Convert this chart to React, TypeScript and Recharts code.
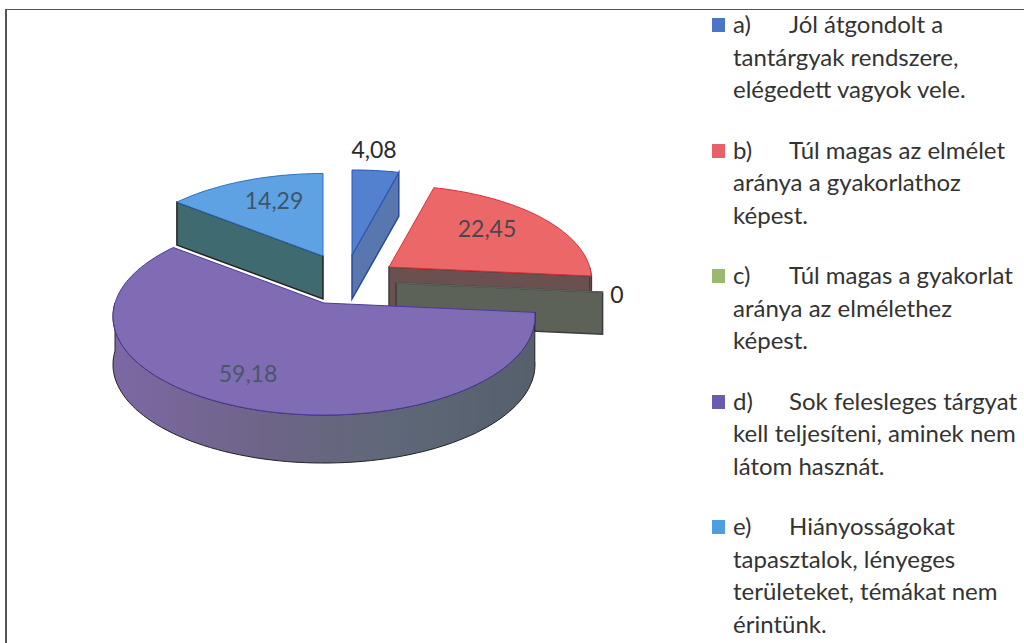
import { PieChart, Pie, Legend } from "recharts";

const names = ["a)", "b)", "c)", "d)", "e)"];
const values = [4.08, 22.45, 0, 59.18, 14.29];
const valueLabels = ["4,08", "22,45", "0", "59,18", "14,29"];
const legendHead = ["Jól átgondolt a", "Túl magas az elmélet", "Túl magas a gyakorlat", "Sok felesleges tárgyat", "Hiányosságokat"];
const legendRest = [
  ["tantárgyak rendszere,", "elégedett vagyok vele."],
  ["aránya a gyakorlathoz", "képest."],
  ["aránya az elmélethez", "képest."],
  ["kell teljesíteni, aminek nem", "látom hasznát."],
  ["tapasztalok, lényeges", "területeket, témákat nem", "érintünk."],
];

const topColors = ["#5480d0", "#ec6868", "#9ab870", "#806cb4", "#5ea2e4"];
const edgeColors = ["#2a56b8", "#d8303a", "#5c6258", "#4a3a9c", "#2a72c8"];
const wallColors = ["#5877ae", "#6b5050", "#5c6258", "#6f6a8c", "#3f6a70"];
const wallEdges = ["#2a4a9c", "#3c3c3c", "#3c3c3c", "#222222", "#222222"];
const markerColors = ["#4a76c8", "#e8606a", "#9ab870", "#6a5cb0", "#4aa0e0"];
const labelColors = ["#2a2a2a", "#4a4650", "#2a2a2a", "#46586a", "#3f5568"];

// per slice look of the 3d pie: explosion offset, size, label place
const explode = [[-3, -25], [34, -13], [41, 3], [-31, 23], [-32, -24]];
const scale = [1, 0.96, 0.98, 1, 0.97];
const labelPos = [[374, 158], [487, 237], [617, 303], [248, 382], [274, 209]];

const SQUASH = 96.7 / 209;
const PERSPECTIVE = 0.137;
const DEPTH = [44, 44, 42, 48, 43];

const chartData = names.map((name, i) => ({ name, value: values[i], fill: topColors[i] }));

function project(theta: number, r: number) {
  const rad = (theta * Math.PI) / 180;
  const u = Math.sin(rad);
  const v = -Math.cos(rad);
  const w = 1 - PERSPECTIVE * v;
  return [(r * u) / w, (r * SQUASH * v) / w];
}

function arcPoints(from: number, to: number, r: number) {
  const pts = [];
  const steps = Math.max(1, Math.ceil(Math.abs(to - from) / 2));
  for (let i = 0; i <= steps; i++) pts.push(project(from + ((to - from) * i) / steps, r));
  return pts;
}

function toPath(pts: number[][]) {
  return "M" + pts.map((p) => `${p[0].toFixed(1)},${p[1].toFixed(1)}`).join("L") + "Z";
}

function PieSlice(props: any) {
  const { cx, cy, outerRadius, startAngle, endAngle, index } = props;
  const from = 90 - startAngle;
  const to = 90 - endAngle;
  const r = outerRadius * scale[index];
  const d = DEPTH[index];
  const ox = cx + explode[index][0];
  const oy = cy + explode[index][1];
  const down = (p: number[]) => [p[0], p[1] + d];
  const faces = [];

  // cut faces that look at the viewer
  const cutFace = (theta: number) => {
    const rim = project(theta, r);
    return toPath([[0, 0], rim, down(rim), [0, d]]);
  };
  if (Math.sin((from * Math.PI) / 180) < -0.01) faces.push(cutFace(from));
  if (Math.sin((to * Math.PI) / 180) > 0.01) faces.push(cutFace(to));

  // outer wall, front half only
  const wallFrom = Math.max(from, 90);
  const wallTo = Math.min(to, 270);
  const hasWall = wallTo > wallFrom;
  const wallTop = hasWall ? arcPoints(wallFrom, wallTo, r) : [];
  const wallPath = hasWall ? toPath([...wallTop, ...wallTop.slice().reverse().map(down)]) : "";

  const top = toPath([[0, 0], ...arcPoints(from, to, r)]);
  const gradId = `wall-${index}`;

  return (
    <g transform={`translate(${ox},${oy})`}>
      <defs>
        <linearGradient id={gradId} x1="0" y1="0" x2="1" y2="0">
          <stop offset="0%" stopColor="#7c68a4" />
          <stop offset="35%" stopColor="#6f6488" />
          <stop offset="65%" stopColor="#5f6878" />
          <stop offset="100%" stopColor="#565f6c" />
        </linearGradient>
      </defs>
      {faces.map((f, i) => (
        <path key={i} d={f} fill={wallColors[index]} stroke={wallEdges[index]} strokeWidth={1.5} />
      ))}
      {hasWall && (
        <path d={wallPath} fill={index === 3 ? `url(#${gradId})` : wallColors[index]} stroke={wallEdges[index]} strokeWidth={1} />
      )}
      <path d={top} fill={topColors[index]} stroke={edgeColors[index]} strokeWidth={1} strokeLinejoin="round" />
    </g>
  );
}

function SliceLabel(props: any) {
  const { index } = props;
  const pos = labelPos[index];
  return (
    <text x={pos[0]} y={pos[1]} textAnchor="middle" fontFamily="Lato" fontSize={23} fill={labelColors[index]}>
      {valueLabels[index]}
    </text>
  );
}

function LegendList(props: any) {
  const { payload } = props;
  return (
    <div style={{ fontFamily: "Lato", fontSize: 24, lineHeight: "32.5px", color: "#333", whiteSpace: "nowrap" }}>
      {(payload || []).map((entry: any, i: number) => (
        <div key={entry.value} style={{ position: "relative", marginBottom: 28, paddingLeft: 21 }}>
          <span
            style={{
              position: "absolute",
              left: 0,
              top: 10,
              width: 13,
              height: 14,
              background: markerColors[i],
            }}
          />
          <div>
            <span style={{ display: "inline-block", width: 56 }}>{entry.value}</span>
            {legendHead[i]}
          </div>
          {legendRest[i].map((line) => (
            <div key={line}>{line}</div>
          ))}
        </div>
      ))}
    </div>
  );
}

export default function App() {
  return (
    <div style={{ position: "absolute", left: 0, top: 0, width: 1024, height: 643, overflow: "hidden", background: "#fff" }}>
      <div style={{ position: "absolute", left: 5, top: 9, width: 1024, height: 640, borderLeft: "2px solid #555", borderTop: "1px solid #555" }} />
      <PieChart width={1024} height={643} margin={{ top: 0, right: 0, bottom: 0, left: 0 }} style={{ position: "absolute" }}>
        <Pie
          data={chartData}
          dataKey="value"
          nameKey="name"
          cx={355}
          cy={280}
          outerRadius={209}
          startAngle={90}
          endAngle={-270}
          stroke="none"
          paddingAngle={0}
          shape={PieSlice}
          label={SliceLabel}
          labelLine={false}
          isAnimationActive={false}
        />
        <Legend
          layout="vertical"
          align="right"
          verticalAlign="top"
          content={LegendList}
          wrapperStyle={{ position: "absolute", left: 712, top: 8, width: 312 }}
        />
      </PieChart>
    </div>
  );
}
